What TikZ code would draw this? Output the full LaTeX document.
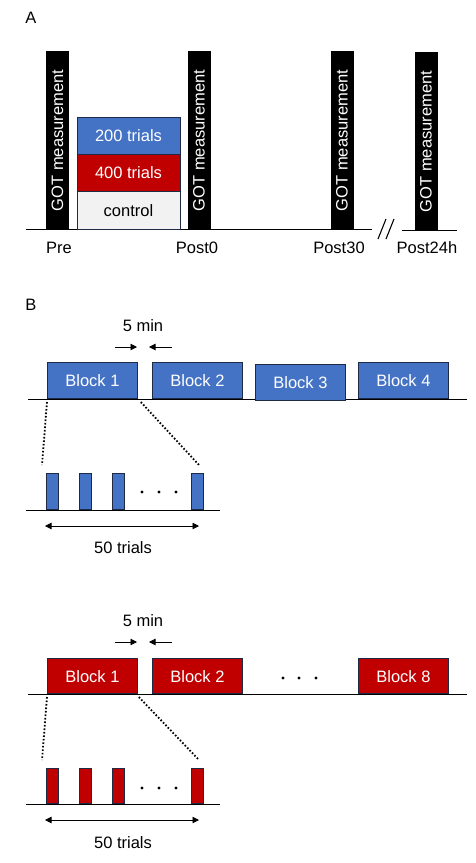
\documentclass[tikz,border=0pt]{standalone}
\usepackage{fontspec}
\setmainfont{Liberation Sans}
\usetikzlibrary{arrows.meta}
\definecolor{blu}{HTML}{4472C4}
\definecolor{rd}{HTML}{C00000}
\definecolor{ctl}{HTML}{F2F2F2}
\definecolor{edge}{HTML}{1F2A44}
\begin{document}
\begin{tikzpicture}[x=1pt,y=-1pt,
  every node/.style={font=\fontsize{16.5}{19}\selectfont, inner sep=0pt},
  gotbar/.style={fill=black, text=white, rotate=90, minimum width=179pt, minimum height=23pt},
  stackbox/.style={draw=edge, line width=0.8pt, minimum width=103pt, minimum height=37.3pt},
  blk/.style={draw=edge, line width=0.8pt, text=white, minimum width=90pt, minimum height=36pt, anchor=south west},
  trialbar/.style={draw=edge, line width=0.6pt, minimum width=12pt, minimum height=36pt, anchor=south west},
  base/.style={line width=0.9pt},
  zoomline/.style={line width=1.8pt, dash pattern=on 1.6pt off 1.9pt},
  arr/.style={line width=0.8pt, -{Triangle[length=6.5pt,width=6.5pt]}},
  darr/.style={line width=0.8pt, {Triangle[length=6.5pt,width=6.5pt]}-{Triangle[length=6.5pt,width=6.5pt]}},
  dot/.style={circle, fill=black, minimum size=3.2pt}
]
\useasboundingbox (0,0) rectangle (476,863);

% ---------------- Panel A ----------------
\node (labA) at (31,18) {A};
\coordinate (a0) at (26,229.5);
\coordinate (a1) at (372,229.5);
\coordinate (a2) at (402,230.5);
\coordinate (a3) at (457,230.5);
\draw[base] (a0) -- (a1);
\draw[base] (a2) -- (a3);
\coordinate (s1a) at (378,239); \coordinate (s1b) at (386,219);
\coordinate (s2a) at (386,239); \coordinate (s2b) at (394,219);
\draw[line width=1.1pt] (s1a) -- (s1b);
\draw[line width=1.1pt] (s2a) -- (s2b);

\node[gotbar] (g1) at (57.5,140.5) {GOT measurement};
\node[gotbar] (g2) at (199,140.5) {GOT measurement};
\node[gotbar] (g3) at (342,140.5) {GOT measurement};
\node[gotbar] (g4) at (426,141.5) {GOT measurement};

\node[stackbox, fill=blu, text=white] (s200) at (128.5,135.7) {200 trials};
\node[stackbox, fill=rd, text=white] (s400) at (128.5,173) {400 trials};
\node[stackbox, fill=ctl, text=black] (sctl) at (128.5,210.3) {control};

\node (pre) at (59,248) {Pre};
\node (post0) at (197,248) {Post0};
\node (post30) at (339,248) {Post30};
\node (post24) at (427,248) {Post24h};

% ---------------- Panel B (blue) ----------------
\node (labB) at (31,305) {B};
\node (min1) at (143,326) {5 min};
\coordinate (ar1a) at (115,347); \coordinate (ar1b) at (137,347);
\coordinate (ar2a) at (172,347); \coordinate (ar2b) at (149,347);
\draw[arr] (ar1a) -- (ar1b);
\draw[arr] (ar2a) -- (ar2b);

\coordinate (bl0) at (28,399); \coordinate (bl1) at (467,399);
\draw[base] (bl0) -- (bl1);
\node[blk, fill=blu] (b1) at (47,399) {Block 1};
\node[blk, fill=blu] (b2) at (152,399) {Block 2};
\node[blk, fill=blu] (b3) at (255,401) {Block 3};
\node[blk, fill=blu] (b4) at (358,399) {Block 4};

\coordinate (tb0) at (26,510); \coordinate (tb1) at (220,510);
\draw[base] (tb0) -- (tb1);
\node[trialbar, fill=blu] (t1) at (46,510) {};
\node[trialbar, fill=blu] (t2) at (79,510) {};
\node[trialbar, fill=blu] (t3) at (112,510) {};
\node[trialbar, fill=blu] (t4) at (190.5,510) {};
\node[dot] (d1) at (142,492) {};
\node[dot] (d2) at (159,492) {};
\node[dot] (d3) at (176,492) {};

\coordinate (zl) at (42,465); \coordinate (zr) at (199,465);
\draw[zoomline] ([yshift=-3pt]b1.south west) -- (zl);
\draw[zoomline] ([xshift=3pt,yshift=-3pt]b1.south east) -- (zr);

\coordinate (da) at (45,526); \coordinate (db) at (199,526);
\draw[darr] (da) -- (db);
\node (n50a) at (123,548) {50 trials};

% ---------------- Panel B (red) ----------------
\node (min2) at (143,621) {5 min};
\coordinate (ar3a) at (115,642); \coordinate (ar3b) at (137,642);
\coordinate (ar4a) at (172,642); \coordinate (ar4b) at (149,642);
\draw[arr] (ar3a) -- (ar3b);
\draw[arr] (ar4a) -- (ar4b);

\coordinate (rl0) at (28,694); \coordinate (rl1) at (467,694);
\draw[base] (rl0) -- (rl1);
\node[blk, fill=rd, minimum height=35pt] (r1) at (47,694) {Block 1};
\node[blk, fill=rd, minimum height=35pt] (r2) at (152,694) {Block 2};
\node[blk, fill=rd, minimum height=35pt] (r8) at (358,694) {Block 8};
\node[dot] (e1) at (283,678) {};
\node[dot] (e2) at (299,678) {};
\node[dot] (e3) at (316,678) {};

\coordinate (rb0) at (26,804); \coordinate (rb1) at (220,804);
\draw[base] (rb0) -- (rb1);
\node[trialbar, fill=rd, minimum height=35pt] (u1) at (46,804) {};
\node[trialbar, fill=rd, minimum height=35pt] (u2) at (79,804) {};
\node[trialbar, fill=rd, minimum height=35pt] (u3) at (112,804) {};
\node[trialbar, fill=rd, minimum height=35pt] (u4) at (190.5,804) {};
\node[dot] (f1) at (142,788) {};
\node[dot] (f2) at (159,788) {};
\node[dot] (f3) at (176,788) {};

\coordinate (zl2) at (42,760); \coordinate (zr2) at (199,760);
\draw[zoomline] ([yshift=-3pt]r1.south west) -- (zl2);
\draw[zoomline] ([xshift=1pt,yshift=-3pt]r1.south east) -- (zr2);

\coordinate (dc) at (45,820); \coordinate (dd) at (199,820);
\draw[darr] (dc) -- (dd);
\node (n50b) at (123,843) {50 trials};
\end{tikzpicture}
\end{document}
